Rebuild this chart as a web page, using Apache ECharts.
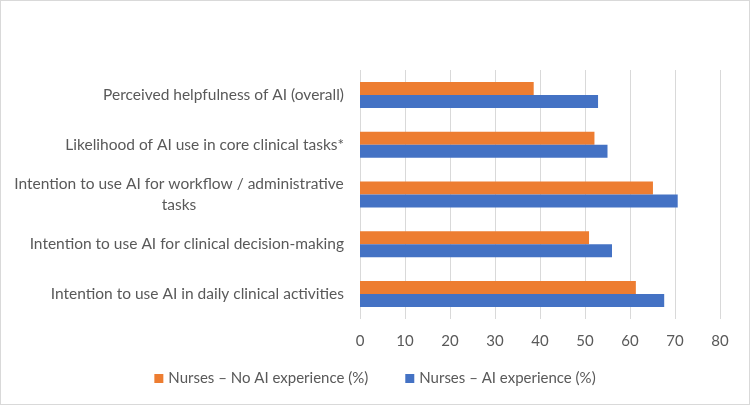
<!DOCTYPE html>
<html><head><meta charset="utf-8">
<script src="https://cdn.jsdelivr.net/npm/echarts@6/dist/echarts.min.js"></script>
<style>html,body{margin:0;padding:0;background:#fff}#c{width:748px;height:403px;border:1px solid #d9d9d9}</style>
</head><body><div id="c"></div>
<script>
const categories = [
  'Intention to use AI in daily clinical activities',
  'Intention to use AI for clinical decision-making',
  'Intention to use AI for workflow / administrative\ntasks',
  'Likelihood of AI use in core clinical tasks*',
  'Perceived helpfulness of AI (overall)'
];
const seriesNames = ['Nurses – No AI experience (%)', 'Nurses – AI experience (%)'];
const noAiExperience = [61.3, 50.9, 65.1, 52.1, 38.6];
const aiExperience = [67.6, 56.0, 70.6, 55.0, 52.9];
const xTicks = [0, 10, 20, 30, 40, 50, 60, 70, 80];

const chart = echarts.init(document.getElementById('c'));
const font = 'Lato, "Open Sans", sans-serif';
chart.setOption({
  animation: false,
  textStyle: { fontFamily: font },
  grid: { left: 359, right: 29, top: 69, bottom: 85, containLabel: false },
  legend: {
    data: seriesNames,
    top: 370, left: 'center', padding: 0,
    itemWidth: 9, itemHeight: 9, itemGap: 37,
    icon: 'rect',
    textStyle: { color: '#595959', fontSize: 15, fontFamily: font }
  },
  xAxis: {
    type: 'value', min: xTicks[0], max: xTicks[xTicks.length - 1], interval: 10,
    axisLine: { show: false }, axisTick: { show: false },
    splitLine: { lineStyle: { color: '#d9d9d9' } },
    axisLabel: { color: '#595959', fontSize: 15, margin: 15, fontFamily: font }
  },
  yAxis: {
    type: 'category', data: categories,
    axisLine: { show: false }, axisTick: { show: false },
    axisLabel: {
      color: '#595959', fontSize: 15.5, margin: 16, lineHeight: 21, fontFamily: font,
      formatter: function (v) {
        if (v.indexOf('\n') < 0) return v;
        return v.split('\n').map(function (s) { return '{c|' + s + '}'; }).join('\n');
      },
      rich: { c: { width: 330, align: 'center', fontSize: 15.5, lineHeight: 21, color: '#595959', fontFamily: font } }
    }
  },
  series: [
    { name: seriesNames[0], type: 'bar', data: noAiExperience, itemStyle: { color: '#ed7d31' }, barWidth: 13, barGap: '0%', barCategoryGap: '48%' },
    { name: seriesNames[1], type: 'bar', data: aiExperience, itemStyle: { color: '#4472c4' }, barWidth: 13, barGap: '0%', barCategoryGap: '48%' }
  ]
});
</script></body></html>
